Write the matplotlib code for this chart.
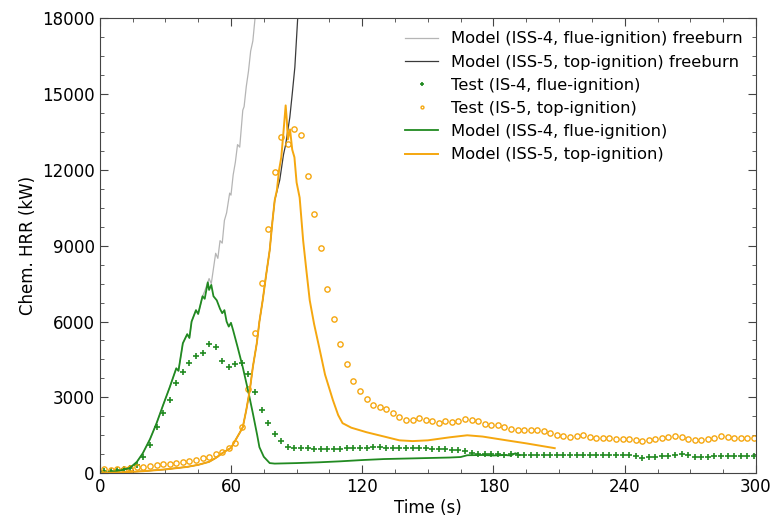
import numpy as np
import matplotlib
matplotlib.use("Agg")
import matplotlib.pyplot as plt
from matplotlib.ticker import MultipleLocator

# ---- data -------------------------------------------------------------
# Test data sampled every ~3 s
t_test = np.arange(2, 300, 3)

test_is5 = [150, 130, 150, 170, 200, 240, 250, 280, 320, 350,
            380, 420, 460, 500, 540, 600, 660, 760, 850, 990,
            1190, 1820, 3320, 5540, 7520, 9650, 11910, 13290, 13010, 13610,
            13370, 11750, 10250, 8900, 7280, 6090, 5100, 4310, 3640, 3240,
            2930, 2690, 2610, 2530, 2370, 2220, 2120, 2120, 2190, 2100,
            2060, 2000, 2060, 2040, 2060, 2160, 2120, 2060, 1960, 1900,
            1900, 1810, 1740, 1700, 1700, 1700, 1700, 1660, 1590, 1500,
            1460, 1440, 1460, 1500, 1440, 1400, 1400, 1400, 1370, 1370,
            1360, 1330, 1280, 1310, 1370, 1400, 1440, 1460, 1440, 1350,
            1310, 1330, 1370, 1410, 1460, 1440, 1400, 1400, 1410, 1400]

test_is4 = [80, 100, 120, 150, 200, 310, 650, 1100, 1820, 2400,
            2900, 3560, 4000, 4350, 4630, 4750, 5100, 4980, 4430, 4190,
            4310, 4350, 3920, 3200, 2490, 1980, 1540, 1270, 1030, 990,
            990, 990, 950, 950, 950, 970, 970, 990, 990, 1000,
            1010, 1030, 1050, 1000, 980, 990, 980, 980, 990, 980,
            970, 960, 950, 920, 900, 860, 800, 760, 760, 740,
            740, 730, 740, 730, 720, 720, 720, 720, 710, 720,
            710, 720, 710, 720, 710, 710, 720, 710, 710, 710,
            710, 700, 620, 640, 660, 680, 700, 720, 740, 710,
            660, 650, 660, 670, 680, 670, 680, 670, 680, 690]

# Model ISS-4 (flue-ignition)
t_m4 = [0, 5, 10, 13.7, 17, 19.7, 23, 26, 29, 32, 35, 36, 38, 40, 41, 42, 44, 45,
        47, 48, 49.4, 50, 51, 52, 53.5, 55, 56, 57, 58, 59, 60, 61, 63, 65.4, 68,
        70, 72, 73, 75, 77.7, 80, 85, 90, 100, 110, 120, 130, 140, 150, 160, 165,
        168, 175, 180, 185, 188, 190, 192]
m4 = [0, 40, 120, 200, 450, 790, 1350, 1980, 2700, 3400, 4150, 4050, 5140, 5500,
      5350, 6000, 6450, 6300, 7000, 6900, 7550, 7250, 7450, 7000, 6840, 6500, 6330,
      6450, 6000, 5800, 5950, 5650, 5000, 4190, 3200, 2370, 1500, 1030, 650, 400,
      380, 390, 400, 430, 470, 520, 560, 580, 600, 620, 640, 710, 720, 700, 720,
      700, 790, 720]

# Model ISS-4 freeburn
t_f4 = [0, 5, 10, 13.7, 17, 19.7, 23, 26, 29, 32, 35, 36, 38, 40, 41, 42, 44, 45,
        47, 48, 50, 51, 52, 53, 54, 55, 56, 57, 58, 59.4, 60, 61, 62, 63, 64,
        65.4, 66, 67, 68, 69, 70, 71, 73]
f4 = [0, 40, 120, 200, 450, 790, 1350, 1980, 2700, 3400, 4150, 4050, 5140, 5500,
      5350, 6000, 6450, 6300, 7000, 7200, 7700, 7500, 8100, 8700, 8500, 9200, 9100,
      10000, 10300, 11080, 11000, 11800, 12300, 13000, 12900, 14360, 14500, 15300,
      15900, 16700, 17100, 18000, 19500]

# Model ISS-5 (top-ignition)
t_m5 = [0, 10, 20, 30, 40, 45, 50, 53, 56, 58, 60, 62, 64, 65.4, 67, 68.6, 70,
        71.8, 73, 74.5, 76, 77.7, 79, 80, 81, 82, 83, 84, 85, 85.5, 86, 87, 88,
        89, 90, 91.4, 93, 94.5, 96, 98, 100.6, 103, 106.6, 109, 111, 115, 122,
        130, 137, 143, 150, 160, 168, 175, 186, 195, 208]
m5 = [0, 30, 80, 150, 250, 330, 450, 600, 790, 900, 1000, 1300, 1600, 1820, 2500,
      3280, 4200, 5140, 6000, 6840, 7800, 8820, 10000, 10800, 11200, 12000, 12500,
      13500, 14550, 14000, 13200, 13600, 12800, 12500, 11500, 10900, 9200, 8000,
      6840, 5900, 4870, 3900, 2890, 2300, 1980, 1800, 1620, 1450, 1300, 1270, 1300,
      1420, 1500, 1450, 1300, 1180, 990]

# Model ISS-5 freeburn
t_f5 = [0, 10, 20, 30, 40, 45, 50, 53, 56, 58, 60, 62, 64, 65.4, 67, 68.6, 70,
        71.8, 73, 74.5, 76, 77.7, 79, 80, 82.3, 84, 85, 86.9, 88, 89.2, 90.5, 92]
f5 = [0, 30, 80, 150, 250, 330, 450, 600, 790, 900, 1000, 1300, 1600, 1820, 2500,
      3280, 4200, 5140, 6000, 6840, 7800, 8820, 10000, 10800, 11600, 12600, 13000,
      14080, 15000, 16060, 18000, 19500]

x_ticks = [0, 60, 120, 180, 240, 300]
y_ticks = [0, 3000, 6000, 9000, 12000, 15000, 18000]

# ---- plot -------------------------------------------------------------
green = "#218a21"
orange = "#f5a70f"

fig = plt.figure(figsize=(7.73, 5.2), dpi=100)
ax = fig.add_axes([0.129, 0.090, 0.849, 0.875])

ax.plot(t_f4, f4, color="#b5b5b5", lw=0.9, label="Model (ISS-4, flue-ignition) freeburn")
ax.plot(t_f5, f5, color="#3a3a3a", lw=0.9, label="Model (ISS-5, top-ignition) freeburn")
ax.plot(t_test, test_is4, ls="none", marker="+", ms=4, mew=1.2, color=green,
        label="Test (IS-4, flue-ignition)")
ax.plot(t_test, test_is5, ls="none", marker="o", ms=3.8, mew=1.0, mfc="none",
        mec=orange, label="Test (IS-5, top-ignition)")
ax.plot(t_m4, m4, color=green, lw=1.3, label="Model (ISS-4, flue-ignition)")
ax.plot(t_m5, m5, color=orange, lw=1.4, label="Model (ISS-5, top-ignition)")

ax.set_xlim(0, 300)
ax.set_ylim(0, 18000)
ax.set_xticks(x_ticks)
ax.set_yticks(y_ticks)
ax.xaxis.set_minor_locator(MultipleLocator(15))
ax.yaxis.set_minor_locator(MultipleLocator(750))
ax.tick_params(which="both", direction="in", top=True, right=True, labelsize=12,
               color="#444444")
ax.tick_params(which="major", length=6)
ax.tick_params(which="minor", length=3)
for s in ax.spines.values():
    s.set_color("#444444")

ax.set_xlabel("Time (s)", fontsize=12, labelpad=2)
ax.set_ylabel("Chem. HRR (kW)", fontsize=12)

ax.legend(loc="upper right", frameon=False, fontsize=11.8, markerscale=0.55,
          handlelength=2.0, handletextpad=0.8, labelspacing=0.5,
          borderaxespad=0.4)

fig.savefig("out.png", dpi=100)
